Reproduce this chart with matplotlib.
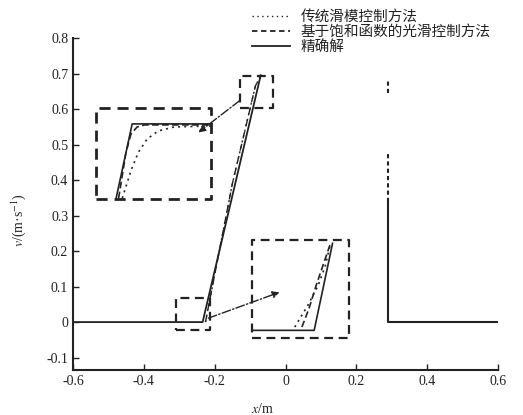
import matplotlib
matplotlib.use("Agg")
from matplotlib import pyplot as plt
from matplotlib.lines import Line2D
import numpy as np

plt.rcParams['font.family'] = ['Liberation Serif', 'Noto Sans CJK SC', 'DejaVu Sans']
plt.rcParams['mathtext.fontset'] = 'stix'

# legend labels
lab_trad = "传统滑模控制方法"
lab_smooth = "基于饱和函数的光滑控制方法"
lab_exact = "精确解"

# main phase trajectory (x in m, v in m/s)
x_rise = [-0.6, -0.234, -0.07]
v_rise = [0.0, 0.0, 0.695]
x_rise_trad = [-0.226, -0.15, -0.085, -0.072]
v_rise_trad = [0.0, 0.39, 0.665, 0.69]
x_stop = [0.29, 0.29, 0.6]
v_stop = [0.337, 0.0, 0.0]
x_stop_dot = [0.29, 0.29]
v_stop_dot = [0.337, 0.48]
x_stop_top = [0.29, 0.29]
v_stop_top = [0.645, 0.68]

# zoom regions in the main axes: (x0, x1, v0, v1)
zoom_top = (-0.129, -0.036, 0.604, 0.694)
zoom_bot = (-0.308, -0.213, -0.022, 0.067)
# where the magnified views sit: (x0, x1, v0, v1)
inset_top = (-0.534, -0.210, 0.346, 0.604)
inset_bot = (-0.095, 0.179, -0.045, 0.231)

# magnified curves, top knee
xt_exact = [-0.113, -0.100, -0.036]
vt_exact = [0.605, 0.678, 0.678]
xt_smooth = [-0.111, -0.105, -0.101, -0.096, -0.090, -0.036]
vt_smooth = [0.605, 0.650, 0.668, 0.675, 0.677, 0.677]
xt_trad = [-0.108, -0.101, -0.095, -0.088, -0.079, -0.066, -0.036]
vt_trad = [0.605, 0.632, 0.650, 0.663, 0.671, 0.675, 0.676]

# magnified curves, start of acceleration
xb_exact = [-0.308, -0.247, -0.229]
vb_exact = [-0.015, -0.015, 0.064]
xb_smooth = [-0.259, -0.252, -0.245, -0.238, -0.231]
vb_smooth = [-0.012, 0.005, 0.026, 0.045, 0.064]
xb_trad = [-0.266, -0.253, -0.243, -0.236, -0.231]
vb_trad = [-0.012, 0.008, 0.026, 0.044, 0.064]

xticks = [-0.6, -0.4, -0.2, 0, 0.2, 0.4, 0.6]
yticks = [-0.1, 0, 0.1, 0.2, 0.3, 0.4, 0.5, 0.6, 0.7, 0.8]

ink = '#222222'

fig = plt.figure(figsize=(5.23, 4.15), dpi=100)
ax = fig.add_axes([0.1396, 0.1084, 0.8126, 0.80])

ax.plot(x_rise, v_rise, color=ink, lw=1.3)
ax.plot(x_rise_trad, v_rise_trad, color=ink, lw=1.0, ls=(0, (1.5, 2.5)))
ax.plot(x_rise_trad, v_rise_trad, color=ink, lw=1.0, ls=(0, (5, 4)))
ax.plot(x_stop, v_stop, color=ink, lw=1.5)
ax.plot(x_stop_dot, v_stop_dot, color=ink, lw=1.5, ls=(0, (2, 1.5)))
ax.plot(x_stop_top, v_stop_top, color=ink, lw=1.5, ls=(0, (2, 1.5)))


def dashed_box(x0, x1, y0, y1, lw):
    ax.plot([x0, x1, x1, x0, x0], [y0, y0, y1, y1, y0], color=ink, lw=lw,
            ls=(0, (4, 2.5)), solid_capstyle='butt')


dashed_box(*zoom_top, 1.6)
dashed_box(*zoom_bot, 1.6)
dashed_box(*inset_top, 2.0)
dashed_box(*inset_bot, 1.6)


def magnify(zoom, inset, xs, vs):
    zx0, zx1, zv0, zv1 = zoom
    ix0, ix1, iv0, iv1 = inset
    xs = np.asarray(xs)
    vs = np.asarray(vs)
    return (ix0 + (xs - zx0) / (zx1 - zx0) * (ix1 - ix0),
            iv0 + (vs - zv0) / (zv1 - zv0) * (iv1 - iv0))


for xs, vs, style in [(xt_exact, vt_exact, '-'),
                      (xt_smooth, vt_smooth, (0, (4, 2))),
                      (xt_trad, vt_trad, (0, (1.2, 2.5)))]:
    ax.plot(*magnify(zoom_top, inset_top, xs, vs), color=ink, lw=1.2, ls=style)

for xs, vs, style in [(xb_exact, vb_exact, '-'),
                      (xb_smooth, vb_smooth, (0, (4, 2))),
                      (xb_trad, vb_trad, (0, (1.2, 2.5)))]:
    ax.plot(*magnify(zoom_bot, inset_bot, xs, vs), color=ink, lw=1.2, ls=style)

# arrows from the small boxes to their magnified views
ax.annotate('', xy=(-0.246, 0.534), xytext=(-0.129, 0.624),
            arrowprops=dict(arrowstyle='-|>', color=ink, lw=1.0, ls='-.',
                            mutation_scale=10, shrinkA=0, shrinkB=0))
ax.annotate('', xy=(-0.017, 0.084), xytext=(-0.218, 0.011),
            arrowprops=dict(arrowstyle='-|>', color=ink, lw=1.0, ls='-.',
                            mutation_scale=10, shrinkA=0, shrinkB=0))

ax.set_xlim(-0.6, 0.6)
ax.set_ylim(-0.135, 0.8)
ax.set_xticks(xticks)
ax.set_xticklabels(['-0.6', '-0.4', '-0.2', '0', '0.2', '0.4', '0.6'])
ax.set_yticks(yticks)
ax.set_yticklabels(['-0.1', '0', '0.1', '0.2', '0.3', '0.4', '0.5', '0.6', '0.7', '0.8'])
ax.tick_params(direction='in', length=4, width=1, labelsize=10, colors=ink)
for side in ['top', 'right']:
    ax.spines[side].set_visible(False)
for side in ['left', 'bottom']:
    ax.spines[side].set_linewidth(1.5)
    ax.spines[side].set_color(ink)

ax.set_xlabel(r'$x$/m', fontsize=10, color=ink)
ax.xaxis.set_label_coords(0.447, -0.095)
ax.set_ylabel(r'$v$/(m·s$^{-1}$)', fontsize=10, color=ink)
ax.yaxis.set_label_coords(-0.105, 0.45)

handles = [Line2D([], [], color=ink, lw=1.0, ls=(0, (1, 2.5))),
           Line2D([], [], color=ink, lw=1.3, ls=(0, (3, 2))),
           Line2D([], [], color=ink, lw=1.3)]
fig.legend(handles, [lab_trad, lab_smooth, lab_exact], loc='upper left',
           bbox_to_anchor=(0.463, 1.0), frameon=False,
           prop={'family': ['Noto Sans CJK SC', 'DejaVu Sans'], 'size': 10.5},
           labelspacing=0.05, handlelength=2.6, handletextpad=0.7,
           borderpad=0.2, labelcolor=ink)

fig.savefig('out.png', dpi=100)
